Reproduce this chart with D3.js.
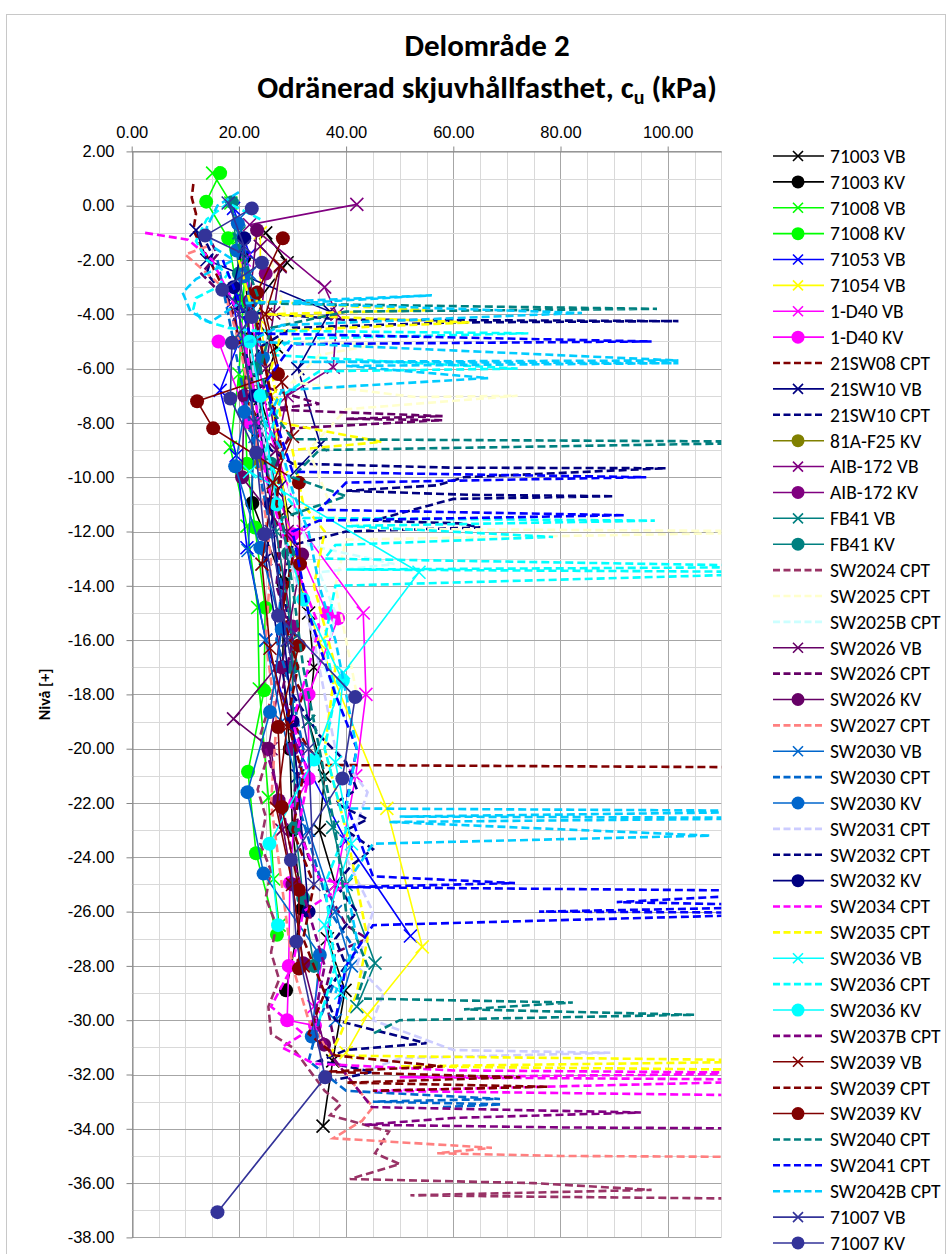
<!DOCTYPE html>
<html>
<head>
<meta charset="utf-8">
<script src="https://cdn.jsdelivr.net/npm/d3@7"></script>
<style>
  body { margin: 0; background: #fff; }
  svg { font-family: Calibri, Carlito, Lato, sans-serif; }
</style>
</head>
<body>
<svg></svg>
<script>
const width = 952,
  height = 1254

// series values, [cu (kPa), level (m)]
const s71003VB = [[25,-1.0],[29,-2.1],[22,-3.9],[27,-5.2],[24,-7.1],[27,-9],[29,-11.2],[30,-13],[33,-15],[34,-17],[33,-19],[36,-21],[35,-23],[38,-25],[36.5,-27],[39.8,-28.9],[37.5,-31.5],[35.7,-33.9]]
const s71003KV = [[21,-1.9],[22,-4.9],[22.5,-8],[22.5,-10.95],[28.3,-13.9],[28.2,-17],[29.5,-20],[30,-23],[31.8,-25.9],[28.8,-28.9]]
const s71008VB = [[15.1,1.2],[18.5,0.1],[20,-1.2],[21,-2.8],[20.5,-4.6],[20,-6.2],[18.4,-8.9],[21.5,-11.8],[23.5,-14.8],[23.8,-17.8],[25.5,-21.8],[26.5,-24.8],[27.5,-26.5]]
const s71008KV = [[16.5,1.2],[13.9,0.15],[18,-1.2],[20,-3.5],[21,-6.5],[21.5,-9.5],[23,-11.85],[24.9,-14.8],[24.7,-17.85],[21.7,-20.85],[23.2,-23.85],[27.1,-26.85]]
const s71053VB = [[19,-0.1],[22,-1.8],[19,-3.5],[20,-5],[16.5,-6.8],[19.5,-9.2],[21.5,-12.6],[25,-16],[31,-20],[40,-23.4],[52,-26.9]]
const s71054VB = [[24,-1],[24,-4.2],[26,-7],[28,-10],[30,-13],[35,-16.1],[47.6,-22.2],[54.2,-27.3],[44,-29.8],[40,-31.2]]
const s1D40VB = [[21,-2],[23,-5],[26,-8.5],[32,-12],[43.2,-15],[43.7,-18],[41.8,-21],[38,-25],[34,-29.5]]
const s1D40KV = [[16.2,-5.0],[22,-8],[30,-12.1],[36.4,-15],[38.5,-15.2],[33,-18],[33,-21.1],[30.5,-22],[29.5,-24.95],[29.3,-28],[29,-30],[34.2,-30.2]]
const s21SW08CPT = [[11.5,0.8],[11.2,0.3],[12,-0.3],[11.5,-0.9],[13,-1.5],[15,-2.2],[17,-3],[19,-4],[20,-5],[22,-6.2],[21,-7],[24,-8],[23,-9],[26,-10],[25,-11],[28,-12],[27,-13],[29,-14],[28,-15],[31,-16],[29,-17],[32,-18],[30,-19],[33,-20],[36,-20.6],[130,-20.7]]
const s21SW10VB = [[12,-0.9],[14,-2],[37,-3.9],[31,-6],[35.2,-8.8],[27,-10.5],[25,-13],[28,-17],[31,-21]]
const s21SW10CPT = [[13,-1],[15,-1.8],[14,-2.5],[17,-3.2],[20,-3.9],[40,-4.2],[102,-4.25],[60,-4.3],[30,-4.5],[24,-5.2],[22,-6],[25,-7],[23,-8],[26,-9],[30,-9.5],[60,-9.65],[99.7,-9.67],[62,-10.0],[57,-10.3],[40,-10.5],[63,-10.65],[90,-10.7],[60,-10.8],[45,-11.6],[61,-11.7],[65,-11.85],[40,-12],[30,-12.5],[28,-14],[30,-16]]
const s81AF25KV = [[22,-6.5],[24,-9.5]]
const sAIB172VB = [[42,0.05],[22,-0.7],[36,-3.0],[38.3,-4.0],[37.6,-5.95],[29,-7.0],[27,-9]]
const sAIB172KV = [[25,-2.5],[23,-6],[26,-11],[30,-15.5],[30,-20]]
const sFB41VB = [[20,-1],[23,-4],[24,-8],[27,-12],[30,-16],[33,-19],[37.5,-22.9],[40,-25],[45.4,-27.9],[42,-29.5]]
const sFB41KV = [[18.7,0.13],[20,-2.5],[23,-6],[26,-9.5],[29.2,-12.8],[30,-17],[30.5,-22.9],[32,-25.5],[34,-28.0]]
const sSW2024CPT = [[27,-17.5],[25.5,-18.5],[24,-19.5],[25,-20.5],[23.5,-21.5],[25,-22.5],[24,-23.5],[26,-24.5],[25,-25.5],[27,-26.5],[26,-27.5],[27.5,-28.5],[25.5,-29.5],[26,-30.5],[30,-31],[33,-31.8],[36,-32.6],[39,-33.1],[37,-33.5],[48,-34.1],[45.4,-34.9],[50,-35.3],[40.7,-35.85],[75,-36.0],[97,-36.25],[52,-36.45],[75,-36.5],[130,-36.6]]
const sSW2025CPT = [[26,-2],[28,-3.5],[30,-5],[46,-5.1],[35,-5.5],[30,-6.5],[53,-7.05],[72,-7.0],[40,-7.5],[33,-9],[36,-10.5],[38,-11.5],[45,-11.9],[130,-12.0],[40,-12.3],[38,-14],[40,-16],[42,-18]]
const sSW2025BCPT = [[28,-9],[30,-11],[33,-12.5],[49,-13.2],[35,-13.5],[38,-15],[36,-17],[40,-19]]
const sSW2026VB = [[24,-1.5],[27.7,-2.25],[26.5,-3.95],[25,-6],[27,-9],[29,-12],[28,-15],[27,-17],[19,-18.9],[26,-20],[28,-23]]
const sSW2026CPT = [[14,-1],[16,-1.8],[13,-2.5],[18,-3.5],[20,-5],[22,-6.5],[35,-7.3],[25,-7.5],[58,-7.75],[40,-7.85],[58,-7.9],[30,-8.2],[26,-10],[28,-12],[27,-14],[30,-16],[28,-18],[32,-20],[30,-22],[33,-24],[40,-26.5],[44,-27.0],[38,-27.5],[36,-29],[38,-31]]
const sSW2026KV = [[23.4,-0.9],[22,-3.5],[21,-7],[20.6,-10.0],[31.8,-12.85],[28,-17],[25.5,-20],[27.4,-21.9],[30,-25],[32,-27.9],[35.9,-30.9]]
const sSW2027CPT = [[14,-1.5],[10,-1.8],[17,-3],[20,-5],[22,-7],[24,-10],[26,-13],[25,-16],[27,-19],[26,-22],[28,-25],[30,-28],[33,-30],[38,-31.5],[42,-32.5],[45,-33.2],[43,-33.7],[37.6,-34.35],[67.2,-34.7],[57,-34.9],[80,-35],[130,-35.05]]
const sSW2030VB = [[20,-0.5],[22,-2.5],[21,-5],[23,-8.5],[21.7,-12.7],[25,-16],[28,-19],[33,-23],[38,-26],[41,-28],[38,-30]]
const sSW2030CPT = [[16,-2],[18,-4],[20,-6],[22,-8],[24,-10],[26,-12],[28,-14],[27,-16],[30,-18],[32,-20],[31,-22],[34,-24],[37,-26],[42,-27.5],[38,-28.5],[35,-30],[33,-31.5],[40,-32.6],[68.7,-32.9],[45,-33],[69,-33.1],[58,-33.2]]
const sSW2030KV = [[19.8,-0.65],[19.6,-1.65],[20.8,-2.6],[22.4,-3.5],[24.5,-5.6],[21,-7.6],[19.3,-9.6],[24,-12.6],[28,-15.6],[25.8,-18.65],[21.6,-21.6],[24.6,-24.6],[35.1,-27.6],[33.6,-30.6]]
const sSW2031CPT = [[22,-5],[24,-8],[28,-12],[34,-16],[38,-20],[44,-21.6],[40,-24],[45,-26],[42,-28],[47,-29],[45,-30],[60,-31.1],[89.3,-31.2],[50,-31.4],[42,-32]]
const sSW2032CPT = [[30,-18],[35,-19.5],[40,-20.5],[42,-21.5],[38,-22],[44,-22.6],[40,-23],[45,-23.7],[41,-24.3],[38,-25],[42,-26],[38,-27],[40,-28],[36,-29],[38,-30],[55,-30.85],[40,-31.1],[35,-31.5],[45,-31.9],[38,-32.2]]
const sSW2032KV = [[21,-1.2],[19,-3],[23,-7],[26,-11],[30,-19],[33,-26]]
const sSW2034CPT = [[2.5,-1.0],[10.5,-1.25],[15,-2],[20,-4],[23,-7],[25,-10],[28,-12],[32,-14],[35,-15.5],[33,-17],[30,-19],[33,-21],[31,-23],[35,-24.8],[40,-25],[32,-26],[30,-28],[26,-29.5],[32,-30.5],[28,-31],[34,-31.6],[60,-31.85],[130,-31.95],[50,-32.1],[130,-32.2],[45,-32.6],[130,-32.8]]
const sSW2035CPT = [[20,-2],[22,-3.5],[55,-3.85],[25,-4.0],[63,-4.3],[28,-4.6],[26,-6],[28,-8],[46.6,-8.7],[30,-9],[32,-11],[36,-12],[34,-14],[38,-17],[36,-20],[40,-23],[44,-27],[42,-29],[39,-30.5],[37,-31.3],[130,-31.5],[50,-31.7],[130,-31.85]]
const sSW2036VB = [[22,-9.8],[53.6,-13.5],[39.5,-17.2],[38,-20.5],[41,-23.5],[36,-26.5],[39,-29]]
const sSW2036CPT = [[24,-0.5],[18,0.1],[14,-0.5],[12,-1.3],[14,-2.0],[18,-2.5],[16,-3],[12,-3.4],[11.5,-3.8],[13,-4.2],[18,-4.5],[22,-4.6],[74,-4.7],[30,-4.9],[26,-5.5],[72,-6.0],[35,-6.1],[28,-7],[25,-9],[28,-10.5],[32,-11.5],[97.6,-11.6],[40,-11.8],[78.6,-12.2],[38,-12.5],[36,-13],[130,-13.3],[40,-13.4],[130,-13.5],[38,-14],[36,-16],[38,-18],[36,-20],[40,-23],[36,-25],[38,-28],[35,-30]]
const sSW2036KV = [[22,-5],[24,-7],[27,-11],[32,-14.5],[39.4,-17.5],[34,-20.4],[25.7,-23.5],[27.3,-26.5]]
const sSW2037BCPT = [[25,-20],[28,-22],[30,-24],[33,-26],[36,-28],[34,-30],[38,-31.5],[42,-32.5],[44.8,-33.2],[70,-33.3],[95,-33.4],[60,-33.6],[43.5,-33.85],[80,-33.95],[130,-34.0]]
const sSW2039VB = [[27.7,-2.2],[25,-4],[28,-6.5],[30,-8.5],[26.4,-10.2],[24.3,-13.2],[25.8,-16.3],[29,-19.2],[27,-22.2],[30,-25],[32,-28]]
const sSW2039CPT = [[22,-3],[24,-5],[26,-7],[28,-9],[27,-11],[30,-13],[28,-15],[31,-17],[29,-19],[32,-21],[30,-23],[34,-25],[32,-27],[36,-29],[33,-30.5],[38,-31.3],[58,-31.7],[36,-31.9],[72.5,-32.1],[40,-32.3],[77.7,-32.45],[45,-32.6]]
const sSW2039KV = [[28.2,-1.2],[23.4,-3.2],[27.3,-6.2],[12.2,-7.2],[15.2,-8.2],[31.2,-10.2],[31.4,-13.2],[31.2,-16.2],[27.3,-19.2],[28,-22.15],[31.2,-25.2],[31.2,-28.1]]
const sSW2040CPT = [[19,-1],[22,-2.5],[24,-3.6],[98,-3.8],[40,-3.9],[26,-4.5],[24,-6],[26,-7.5],[30,-8.6],[130,-8.7],[35,-9],[30,-10],[40,-10.7],[28,-11.5],[30,-14],[32,-17],[35,-20],[38,-23],[40,-26],[44,-28],[42,-29.2],[82.3,-29.35],[62,-29.6],[105,-29.8],[50,-30],[45,-30.5]]
const sSW2041CPT = [[17,-2],[20,-3.5],[22,-4.7],[97,-5.0],[30,-5.1],[25,-6.5],[27,-8],[30,-9.8],[96,-10.0],[40,-10.2],[35,-11.2],[92,-11.4],[35,-11.6],[30,-12],[33,-15],[38,-18],[42,-20],[40,-22],[45,-24.7],[71.5,-24.95],[40,-25.1],[130,-25.25],[90.5,-25.65],[130,-25.8],[76,-26.0],[130,-26.05],[45,-26.5],[40,-28],[38,-30]]
const sSW2042BCPT = [[20,0.5],[16,0],[14,-0.8],[15,-1.5],[19,-2],[12,-2.7],[9.5,-3.2],[11,-3.9],[14.6,-4.3],[20,-3.6],[56,-3.3],[30,-3.6],[84,-3.95],[28,-4.4],[22,-5],[102,-5.7],[30,-5.75],[102,-5.8],[40,-5.9],[66.5,-6.35],[28,-6.8],[25,-8],[28,-9],[30,-10.5],[33,-12],[35,-14],[38,-16],[40,-18],[42,-20],[40,-22.2],[130,-22.3],[50,-22.5],[130,-22.55],[48,-22.7],[108,-23.2],[45,-23.5],[40,-25],[42,-27],[38,-29]]
const s71007VB = [[18,0.1],[21,-1.5],[20,-4],[23,-8],[26,-12],[29,-16],[33,-20],[34,-25]]
const s71007KV = [[22.4,-0.1],[13.7,-1.1],[24.3,-2.1],[16.9,-3.1],[22.4,-4.1],[18.7,-5.05],[18.4,-7.1],[23.2,-9.1],[24.7,-12.1],[27.3,-15.1],[41.7,-18.1],[39.3,-21.1],[29.7,-24.1],[30.7,-27.1],[36.1,-32.1],[16.0,-37.07]]

const seriesNames = ["71003 VB","71003 KV","71008 VB","71008 KV","71053 VB","71054 VB","1-D40 VB","1-D40 KV","21SW08 CPT","21SW10 VB","21SW10 CPT","81A-F25 KV","AIB-172 VB","AIB-172 KV","FB41 VB","FB41 KV","SW2024 CPT","SW2025 CPT","SW2025B CPT","SW2026 VB","SW2026 CPT","SW2026 KV","SW2027 CPT","SW2030 VB","SW2030 CPT","SW2030 KV","SW2031 CPT","SW2032 CPT","SW2032 KV","SW2034 CPT","SW2035 CPT","SW2036 VB","SW2036 CPT","SW2036 KV","SW2037B CPT","SW2039 VB","SW2039 CPT","SW2039 KV","SW2040 CPT","SW2041 CPT","SW2042B CPT","71007 VB","71007 KV"]
const seriesValues = [s71003VB,s71003KV,s71008VB,s71008KV,s71053VB,s71054VB,s1D40VB,s1D40KV,s21SW08CPT,s21SW10VB,s21SW10CPT,s81AF25KV,sAIB172VB,sAIB172KV,sFB41VB,sFB41KV,sSW2024CPT,sSW2025CPT,sSW2025BCPT,sSW2026VB,sSW2026CPT,sSW2026KV,sSW2027CPT,sSW2030VB,sSW2030CPT,sSW2030KV,sSW2031CPT,sSW2032CPT,sSW2032KV,sSW2034CPT,sSW2035CPT,sSW2036VB,sSW2036CPT,sSW2036KV,sSW2037BCPT,sSW2039VB,sSW2039CPT,sSW2039KV,sSW2040CPT,sSW2041CPT,sSW2042BCPT,s71007VB,s71007KV]
const xTicks = [0, 20, 40, 60, 80, 100]
const yTicks = d3.range(-38, 3, 2)

const seriesColors = ["#000000","#000000","#00ff00","#00ff00","#0000ff","#ffff00","#ff00ff","#ff00ff","#800000","#000080","#000080","#808000","#800080","#800080","#008080","#008080","#993366","#ffffcc","#ccffff","#660066","#660066","#660066","#ff8080","#0066cc","#0066cc","#0066cc","#ccccff","#000080","#000080","#ff00ff","#ffff00","#00ffff","#00ffff","#00ffff","#800080","#800000","#800000","#800000","#008080","#0000ff","#00ccff","#333399","#333399"]

const series = seriesNames.map((name, i) => ({
  name,
  values: seriesValues[i],
  color: seriesColors[i],
  kind: name.split(" ")[1],
}))

const svg = d3.select("svg").attr("width", width).attr("height", height)

svg.append("rect")
  .attr("x", 6.5).attr("y", 14.5)
  .attr("width", 939).attr("height", 1260)
  .attr("fill", "none").attr("stroke", "#c8c8c8")

const x = d3.scaleLinear().domain([0, 110]).range([131.7, 721.3])
const y = d3.scaleLinear().domain([-38, 2]).range([1237.4, 151.4])
const crisp = v => Math.round(v) + 0.5

// grid
const grid = svg.append("g")
grid.selectAll(".gx").data(d3.range(0, 111, 5)).join("line")
  .attr("x1", d => crisp(x(d))).attr("x2", d => crisp(x(d)))
  .attr("y1", y(2)).attr("y2", y(-38))
  .attr("stroke", d => d % 20 === 0 && d < 110 ? "#a6a6a6" : "#d9d9d9")
grid.selectAll(".gy").data(d3.range(-38, 3, 1)).join("line")
  .attr("y1", d => crisp(y(d))).attr("y2", d => crisp(y(d)))
  .attr("x1", x(0)).attr("x2", x(110))
  .attr("stroke", d => d % 2 === 0 ? "#a6a6a6" : "#d9d9d9")

// axes
const xAxis = svg.append("g")
  .attr("transform", `translate(0,${crisp(y(2))})`)
  .call(d3.axisTop(x).tickValues(xTicks).tickFormat(d => d.toFixed(2)).tickSize(5).tickSizeOuter(0).tickPadding(9))
const yAxis = svg.append("g")
  .attr("transform", `translate(${crisp(x(0))},0)`)
  .call(d3.axisLeft(y).tickValues(yTicks).tickFormat(d => d.toFixed(2)).tickSize(6).tickSizeOuter(0).tickPadding(12))
;[xAxis, yAxis].forEach(a => {
  a.select(".domain").attr("stroke", "#868686")
  a.selectAll(".tick line").attr("stroke", "#868686")
  a.selectAll("text").attr("font-size", 16.5).attr("fill", "#000").attr("font-family", null)
})

svg.append("text")
  .attr("transform", `translate(50,${(y(2) + y(-38)) / 2}) rotate(-90)`)
  .attr("text-anchor", "middle")
  .attr("font-size", 16).attr("font-weight", "bold")
  .text("Nivå [+]")

// title
const title = svg.append("text")
  .attr("text-anchor", "middle")
  .attr("font-size", 31).attr("font-weight", "bold")
title.append("tspan").attr("x", 487).attr("y", 56).text("Delområde 2")
const t2 = title.append("tspan").attr("x", 487).attr("y", 98)
t2.append("tspan").text("Odränerad skjuvhållfasthet, c")
t2.append("tspan").attr("font-size", 20).attr("dy", 6).text("u")
t2.append("tspan").attr("dy", -6).text(" (kPa)")

// series
svg.append("defs").append("clipPath").attr("id", "plot")
  .append("rect")
  .attr("x", x(0)).attr("y", y(2))
  .attr("width", x(110) - x(0)).attr("height", y(-38) - y(2))

const line = d3.line().x(d => x(d[0])).y(d => y(d[1]))
const cross = s => `M${-s},${-s}L${s},${s}M${-s},${s}L${s},${-s}`

const plot = svg.append("g").attr("clip-path", "url(#plot)")
series.forEach(s => {
  const g = plot.append("g")
  g.append("path")
    .attr("d", line(s.values))
    .attr("fill", "none")
    .attr("stroke", s.color)
    .attr("stroke-width", s.kind === "CPT" ? 2.6 : 1.6)
    .attr("stroke-dasharray", s.kind === "CPT" ? "8,4" : null)
  if (s.kind === "VB") {
    g.selectAll("path.m").data(s.values).join("path")
      .attr("class", "m")
      .attr("transform", d => `translate(${x(d[0])},${y(d[1])})`)
      .attr("d", cross(6.5))
      .attr("stroke", s.color).attr("stroke-width", 1.6).attr("fill", "none")
  }
  if (s.kind === "KV") {
    g.selectAll("circle").data(s.values).join("circle")
      .attr("cx", d => x(d[0])).attr("cy", d => y(d[1]))
      .attr("r", 7).attr("fill", s.color)
  }
})

// legend
const legend = svg.append("g")
const row = legend.selectAll("g").data(series).join("g")
  .attr("transform", (d, i) => `translate(0,${156 + i * 25.88})`)
row.append("line")
  .attr("x1", 773).attr("x2", 824)
  .attr("stroke", d => d.color)
  .attr("stroke-width", d => d.kind === "CPT" ? 2.6 : 1.6)
  .attr("stroke-dasharray", d => d.kind === "CPT" ? "7,3.5" : null)
row.filter(d => d.kind === "VB").append("path")
  .attr("transform", "translate(798,0)")
  .attr("d", cross(5))
  .attr("stroke", d => d.color).attr("stroke-width", 1.6)
row.filter(d => d.kind === "KV").append("circle")
  .attr("cx", 798).attr("r", 6.5)
  .attr("fill", d => d.color)
row.append("text")
  .attr("x", 830).attr("dy", "0.35em")
  .attr("font-size", 19.5)
  .text(d => d.name)
</script>
</body>
</html>
